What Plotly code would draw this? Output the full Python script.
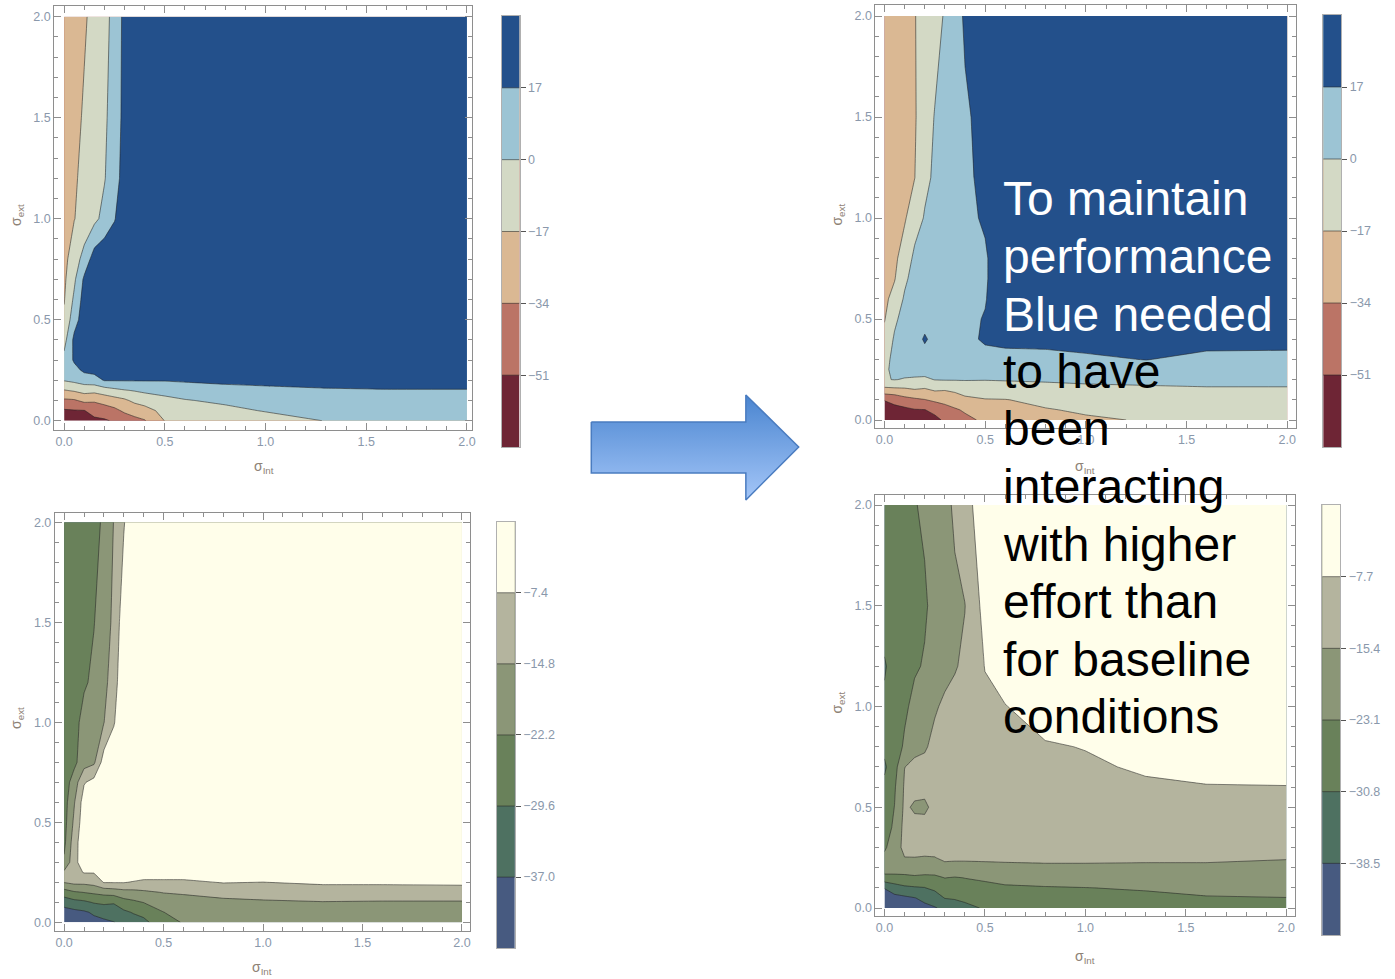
import numpy as np
import plotly.graph_objects as go

# ---------------------------------------------------------------- data
sigma_int = [0, 0.05, 0.1, 0.15, 0.2, 0.25, 0.3, 0.35, 0.4, 0.5, 0.6, 0.8, 1.0, 1.3, 1.6, 2.0]
sigma_ext = [0, 0.05, 0.1, 0.15, 0.2, 0.25, 0.3, 0.4, 0.5, 0.6, 0.7, 0.8, 1.0, 1.2, 1.5, 2.0]

# each inner list is one sigma_int column, values listed along sigma_ext (bottom -> top)
perf_baseline = [
    [-62, -53, -37, -18, 1, 6, 5, -6, -14, -18, -20, -22, -23, -25, -26, -28],
    [-58, -52, -36, -15, 4, 12, 19, 21, 10, 3, -3, -8, -17.5, -19, -22, -24],
    [-57, -51.5, -30, -11, 8, 20, 28, 28, 26, 24, 20, 6, -11, -13, -15, -19],
    [-55, -44, -32, -12, 10, 22, 29, 30, 30, 30, 28, 25, -4, -7, -9, -12],
    [-53, -42, -28, -8, 18, 25, 30, 30, 30, 30, 30, 30, 5, -1, -3, -5],
    [-49, -38, -24, -4, 18, 26, 30, 30, 30, 30, 30, 30, 16, 10, 8, 5],
    [-44, -31, -20, -1, 18, 27, 30, 30, 30, 30, 30, 30, 28, 24, 22, 22],
    [-38, -28, -13, 1, 18, 27, 30, 30, 30, 30, 30, 30, 30, 30, 30, 30],
    [-35, -24, -9, 3, 18, 27, 30, 30, 30, 30, 30, 30, 30, 30, 30, 30],
    [-16.5, -11, -4, 5, 18, 27, 30, 30, 30, 30, 30, 30, 30, 30, 30, 30],
    [-15, -9, -1, 8, 19, 27, 30, 30, 30, 30, 30, 30, 30, 30, 30, 30],
    [-11, -4, 3, 11, 21, 27, 30, 30, 30, 30, 30, 30, 30, 30, 30, 30],
    [-7, 1, 6, 13, 22, 28, 30, 30, 30, 30, 30, 30, 30, 30, 30, 30],
    [0.5, 5, 9, 15, 24, 29, 30, 30, 30, 30, 30, 30, 30, 30, 30, 30],
    [3, 6, 10, 16, 25, 30, 30, 30, 30, 30, 30, 30, 30, 30, 30, 30],
    [4, 7, 11, 16, 25, 30, 30, 30, 30, 30, 30, 30, 30, 30, 30, 30],
]

perf_new = [
    [-60, -56, -50.5, -22, -1, -3, -6, -12, -18, -21, -23, -25, -27, -28, -29, -30],
    [-58, -55, -47, -21, 0.5, 4, 5, 2, -3, -11, -18, -21, -24, -25, -26, -27],
    [-57, -55, -40, -20, -1, 5, 7, 8, 6, 2, -3, -8, -19, -21, -23, -24],
    [-56, -52, -37, -17.5, -2, 6, 9, 10, 10, 8, 6, 3, -6, -17.3, -19, -18],
    [-54, -51.5, -34.5, -19, -3, 7, 10, 19, 11, 10, 8, 6, 1, -3, -5, -8],
    [-56, -46, -31, -15, 0.5, 8, 11, 12, 12, 12, 11, 10, 6, 2, 0.5, -4],
    [-48, -40, -29, -16, 1, 9, 12, 12, 13, 13, 13, 12, 10, 8, 6, 1],
    [-42, -36, -25, -14, 1, 9, 12, 13, 13, 13, 13, 13, 12, 11, 10, 8],
    [-38, -32, -21, -10, 1, 9, 12, 13, 13, 13, 13, 13, 13, 13, 14, 20],
    [-31, -25, -18, -7, 0.5, 8, 12, 19, 18, 16, 15, 15, 19, 22, 24, 26],
    [-27, -21, -17.5, -7, 1, 8, 12, 21, 30, 30, 30, 30, 30, 30, 30, 30],
    [-22, -18, -13, -6, 2, 8, 12, 22, 30, 30, 30, 30, 30, 30, 30, 30],
    [-19, -15, -11, -4, 3, 8, 14, 24, 30, 30, 30, 30, 30, 30, 30, 30],
    [-16, -12, -8, -3, 4, 10, 17.5, 26, 30, 30, 30, 30, 30, 30, 30, 30],
    [-14, -10, -7, -2, 5, 9, 12, 24, 30, 30, 30, 30, 30, 30, 30, 30],
    [-13, -10, -6, -2, 5, 9, 12, 23, 30, 30, 30, 30, 30, 30, 30, 30],
]

effort_baseline = [
    [-42, -40, -34, -25.5, -14.5, -13.5, -21, -24, -25, -25.5, -26, -26, -26.5, -27, -27, -27],
    [-41, -39, -32, -23, -13, -10, -10, -11, -13.5, -15.5, -19, -24, -24.5, -25, -25.5, -26],
    [-40, -38, -31, -22, -13, -7, -3, -2, -3, -4, -8, -18, -20, -23, -24, -25],
    [-39, -36, -29, -21, -12, -7, -2, -1, -1, -2, -5, -16, -19, -21, -22.4, -23.5],
    [-38, -35, -28, -20, -7, -3, -1, -1, -1, -1, -2, -4, -15, -17, -19, -21.5],
    [-37.2, -33, -29, -19, -7, -2, -1, -1, -1, -1, -1, -2, -8, -11, -13, -14.5],
    [-35, -31, -25, -17.5, -7, -2, -1, -1, -1, -1, -1, -1, -1, -1, -3, -8],
    [-33, -29, -23.5, -17, -8, -2, -1, -1, -1, -1, -1, -1, -1, -1, -1, -1],
    [-31, -28, -22, -16, -9, -3, -1, -1, -1, -1, -1, -1, -1, -1, -1, -1],
    [-26, -22.3, -19, -14.5, -9, -3, -1, -1, -1, -1, -1, -1, -1, -1, -1, -1],
    [-21.5, -19.5, -17.5, -14, -9, -3, -1, -1, -1, -1, -1, -1, -1, -1, -1, -1],
    [-19.5, -18, -16, -13, -7, -3, -1, -1, -1, -1, -1, -1, -1, -1, -1, -1],
    [-19, -17.5, -15.5, -12.5, -7.5, -3, -1, -1, -1, -1, -1, -1, -1, -1, -1, -1],
    [-18.5, -17, -15, -12, -6, -2.5, -1, -1, -1, -1, -1, -1, -1, -1, -1, -1],
    [-18.5, -17, -15.2, -12, -6, -2.5, -1, -1, -1, -1, -1, -1, -1, -1, -1, -1],
    [-18.5, -17, -15.2, -12, -5.5, -2.5, -1, -1, -1, -1, -1, -1, -1, -1, -1, -1],
]

effort_new = [
    [-44, -41, -38.3, -25.5, -19, -21, -24.5, -26, -27, -29, -32, -29, -29.5, -31.5, -27, -26],
    [-43, -41, -34, -26, -18, -16, -18, -22, -23, -24, -26, -27, -27, -28, -27, -26],
    [-42, -40, -32, -26, -17, -15.5, -14, -13, -14, -14.5, -15.5, -22, -24.5, -25, -25.5, -25],
    [-41, -38.7, -31.5, -25, -16.5, -15.5, -13, -13, -16.5, -13, -14, -17, -21, -24, -24, -23.5],
    [-40, -37, -31, -26, -16.5, -15.8, -13, -12.5, -17, -13, -14, -16, -19, -22.5, -24, -22],
    [-39, -35, -29, -25, -18, -15.6, -13, -12, -13, -12, -12.5, -14, -16, -19, -21, -20],
    [-37, -30.5, -26, -23, -17.5, -14, -12.5, -11.5, -11.5, -11.5, -12, -12.5, -14.5, -17, -19, -18],
    [-35, -30, -25.5, -23.5, -18, -14, -12, -11, -11, -11, -11, -11.5, -13, -16, -17, -14],
    [-33, -29, -25, -23, -18, -14, -12, -10.5, -10.5, -10.5, -10.5, -10.5, -11.5, -14, -15.6, -10],
    [-30, -27.5, -25, -22, -17.5, -14, -12, -10, -10, -10, -9.5, -9.5, -9, -7.5, -5, -4],
    [-28, -26, -24, -21, -17, -14, -12, -10, -10, -9.5, -9.5, -9, -7.9, -5, -4, -3],
    [-27, -25.5, -23.5, -20.5, -16.5, -14, -12, -10.5, -10, -9.5, -9, -8.2, -5, -4, -3, -3],
    [-26.5, -25, -23.2, -20, -16.5, -14, -12, -10.5, -10, -9.5, -8.5, -7.5, -5, -4, -3, -3],
    [-26, -24.5, -22.5, -19.5, -16.5, -14.3, -12.5, -11, -10, -8.5, -7, -6, -4.5, -4, -3, -3],
    [-25.5, -23.5, -21.5, -19, -16.3, -14.5, -13, -11, -9.5, -7.9, -6.5, -5.5, -4.5, -4, -3, -3],
    [-25, -23.2, -21, -19, -17, -15, -13.5, -11, -9.5, -7.8, -6.5, -5.5, -4.5, -4, -3, -3],
]

perf_levels = [-51, -34, -17, 0, 17]
perf_labels = ["−51", "−34", "−17", "0", "17"]
effort_base_levels = [-37.0, -29.6, -22.2, -14.8, -7.4]
effort_base_labels = ["−37.0", "−29.6", "−22.2", "−14.8", "−7.4"]
effort_new_levels = [-38.5, -30.8, -23.1, -15.4, -7.7]
effort_new_labels = ["−38.5", "−30.8", "−23.1", "−15.4", "−7.7"]

note_lines = ["To maintain", "performance", "Blue needed", "to have", "been",
              "interacting", "with higher", "effort than", "for baseline", "conditions"]
note_colors = ["white"] * 3 + ["black"] * 7

# ---------------------------------------------------------------- style
W, H = 1395, 979
FONT = "Liberation Sans, Arial, sans-serif"
FRAME = "#8e8e8e"
TICKC = "#8a98ab"
LABC = "#8e8276"
CBLINE = "#b0b0b0"
PERF_COLORS = ["#6e2535", "#bb7466", "#dab893", "#d3d9c5", "#9cc4d4", "#23508b"]
EFFORT_COLORS = ["#475a80", "#4e7161", "#69815a", "#8b9677", "#b4b49e", "#fffeea"]
LINE = dict(color="rgba(35,35,35,0.55)", width=1, smoothing=0)
TICKSIZE = 12.5


def px(x):
    return x / W


def py(y):
    return 1 - y / H


def step_scale(cols):
    s = []
    bounds = [(0.0, 0.12), (0.18, 0.32), (0.38, 0.52), (0.58, 0.72), (0.78, 0.92), (0.98, 1.0)]
    for c, (a, b) in zip(cols, bounds):
        s.append([a, c])
        s.append([b, c])
    return s


panels = [
    dict(z=perf_baseline, levels=perf_levels, labels=perf_labels, colors=PERF_COLORS,
         frame=(54.3, 473, 5.7, 430), data=(64.3, 468.3, 16.7, 420.7),
         cbar=(503, 16, 18, 431), xlab=(265, 467), ylab=(17, 215)),
    dict(z=perf_new, levels=perf_levels, labels=perf_labels, colors=PERF_COLORS,
         frame=(878, 1300, 5, 428), data=(887, 1291, 16, 420),
         cbar=(1327, 15, 18, 432), xlab=(1088, 467), ylab=(840, 215)),
    dict(z=effort_baseline, levels=effort_base_levels, labels=effort_base_labels, colors=EFFORT_COLORS,
         frame=(55, 471.7, 513.3, 930.7), data=(64.3, 463.3, 522.3, 922.3),
         cbar=(498.3, 521.7, 18, 426.5), xlab=(263, 968), ylab=(17, 718)),
    dict(z=effort_new, levels=effort_new_levels, labels=effort_new_labels, colors=EFFORT_COLORS,
         frame=(878, 1299, 495, 916), data=(887, 1290, 505, 908),
         cbar=(1326, 505, 18, 430), xlab=(1088, 957), ylab=(840, 703)),
]

fig = go.Figure()
layout = dict(width=W, height=H, margin=dict(l=0, r=0, t=0, b=0),
              paper_bgcolor="white", plot_bgcolor="rgba(0,0,0,0)",
              showlegend=False, font=dict(family=FONT))
annotations = []

for i, p in enumerate(panels, start=1):
    sfx = "" if i == 1 else str(i)
    fl, fr, ft, fb = p["frame"]
    dl, dr, dt, db = p["data"]
    ux = 2.0 / (dr - dl)
    uy = 2.0 / (db - dt)
    xr = [-(dl - fl) * ux, 2 + (fr - dr) * ux]
    yr = [-(fb - db) * uy, 2 + (dt - ft) * uy]
    common = dict(showgrid=False, zeroline=False, showline=True, linecolor=FRAME, linewidth=1,
                  mirror="allticks", ticks="inside", ticklen=7, tickwidth=1, tickcolor=FRAME,
                  tick0=0, dtick=0.5, tickformat=".1f",
                  minor=dict(ticks="inside", ticklen=4, tick0=0, dtick=0.1, tickcolor=FRAME,
                             showgrid=False),
                  tickfont=dict(family=FONT, size=TICKSIZE, color=TICKC), fixedrange=True)
    layout["xaxis" + sfx] = dict(common, domain=[px(fl), px(fr)], range=xr, anchor="y" + sfx)
    layout["yaxis" + sfx] = dict(common, domain=[py(fb), py(ft)], range=yr, anchor="x" + sfx)

    lv = p["levels"]
    step = lv[1] - lv[0]
    contours = dict(start=lv[0], end=lv[-1], size=step, coloring="fill")
    scale = step_scale(p["colors"])
    z = np.array(p["z"], dtype=float).T
    fig.add_trace(go.Contour(
        x=sigma_int, y=sigma_ext, z=z, xaxis="x" + sfx, yaxis="y" + sfx,
        contours=contours, colorscale=scale, line=LINE, hoverinfo="skip", showscale=False))

    # legend bar: a separate small subplot, bands drawn by the same contour levels
    ci = i + 4
    cx, cy, cth, clen = p["cbar"]
    lo, hi = lv[0] - step, lv[-1] + step
    fig.add_trace(go.Contour(
        x=[0, 1], y=[lo, hi], z=[[lo, lo], [hi, hi]], xaxis="x%d" % ci, yaxis="y%d" % ci,
        contours=contours, colorscale=scale, line=LINE, hoverinfo="skip", showscale=False))
    layout["xaxis%d" % ci] = dict(domain=[px(cx), px(cx + cth)], range=[0, 1], anchor="y%d" % ci,
                                  showgrid=False, zeroline=False, showticklabels=False, ticks="",
                                  showline=True, linecolor=CBLINE, linewidth=1, mirror=True,
                                  fixedrange=True)
    layout["yaxis%d" % ci] = dict(domain=[py(cy + clen), py(cy)], range=[lo, hi], anchor="x%d" % ci,
                                  side="right", showgrid=False, zeroline=False,
                                  showline=True, linecolor=CBLINE, linewidth=1, mirror=True,
                                  tickvals=lv, ticktext=p["labels"], ticks="outside", ticklen=5,
                                  tickwidth=1, tickcolor="#555555",
                                  tickfont=dict(family=FONT, size=TICKSIZE, color=TICKC),
                                  fixedrange=True)

    annotations.append(dict(x=px(p["xlab"][0]), y=py(p["xlab"][1]), xref="paper", yref="paper",
                            xanchor="center", yanchor="middle",
                            text="σ<sub>Int</sub>", showarrow=False,
                            font=dict(family=FONT, size=14, color=LABC)))
    annotations.append(dict(x=px(p["ylab"][0]), y=py(p["ylab"][1]), xref="paper", yref="paper",
                            xanchor="center", yanchor="middle",
                            text="σ<sub>ext</sub>", showarrow=False, textangle=-90,
                            font=dict(family=FONT, size=14, color=LABC)))

# block arrow (decoration) drawn on a hidden pixel-space overlay
arrow_x = [593, 748, 748, 801, 748, 748, 593, 593]
arrow_y = [422, 422, 395, 447, 500, 473, 473, 422]
fig.add_trace(go.Scatter(
    x=arrow_x, y=arrow_y, xaxis="x9", yaxis="y9", mode="lines", fill="toself",
    line=dict(color="#4a7cc0", width=1.5),
    fillgradient=dict(type="vertical", colorscale=[[0, "#a4c6f8"], [1, "#4a85d0"]]),
    hoverinfo="skip"))
layout["xaxis9"] = dict(domain=[0, 1], range=[0, W], visible=False, fixedrange=True, anchor="y9")
layout["yaxis9"] = dict(domain=[0, 1], range=[H, 0], visible=False, fixedrange=True, anchor="x9")

for k, (t, c) in enumerate(zip(note_lines, note_colors)):
    annotations.append(dict(x=px(1004), y=py(215 + 57.5 * k - 16), xref="paper", yref="paper",
                            xanchor="left", yanchor="middle", text=t, showarrow=False,
                            font=dict(family=FONT, size=48, color=c)))

layout["annotations"] = annotations
fig.update_layout(**layout)

fig.write_html("out.html", config={"displayModeBar": False},
               post_script="document.body.style.margin='0';document.body.style.overflow='hidden';")
